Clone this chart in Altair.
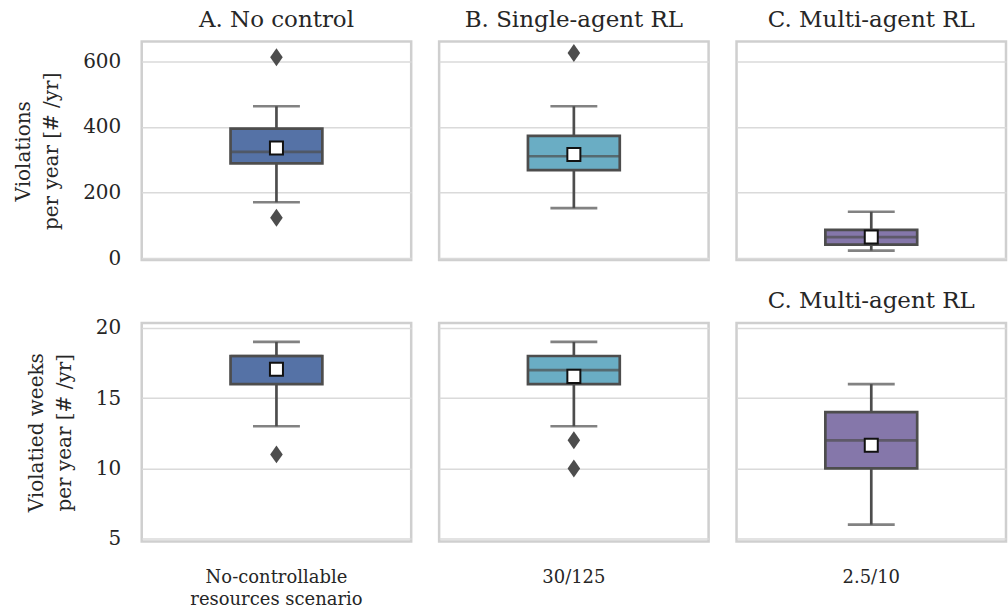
import altair as alt
import pandas as pd

FONT = "DejaVu Serif"
TXT = "#262626"
EDGE = "#4d4d4d"
FRAME = "#cfcfcf"
GRID = "#dadada"

scenarios = ["No-controllable\nresources scenario", "30/125", "2.5/10"]
panel_titles = ["A. No control", "B. Single-agent RL", "C. Multi-agent RL"]
colors = ["#5572a6", "#6aadc4", "#8577aa"]

# Row 1: violations per year
v_q1 = [289, 269, 42]
v_med = [324, 311, 65]
v_q3 = [395, 373, 87]
v_lo = [171, 153, 24]
v_hi = [463, 463, 142]
v_mean = [336, 316, 65]
v_out = [[612, 124], [625], []]
v_ticks = [0, 200, 400, 600]
v_domain = [-5, 660]

# Row 2: violated weeks per year
w_q1 = [16, 16, 10]
w_med = [18, 17, 12]
w_q3 = [18, 18, 14]
w_lo = [13, 13, 6]
w_hi = [19, 19, 16]
w_mean = [17.05, 16.55, 11.65]
w_out = [[11], [12, 10], []]
w_ticks = [5, 10, 15, 20]
w_domain = [4.8, 20.35]

W, H = 270, 219
BOX_W, CAP_W = 92, 47
LW = 2.7


def panel(i, q1, med, q3, lo, hi, mean, outs, ticks, domain, ytitle, title, bottom):
    df = pd.DataFrame({
        "scenario": [scenarios[i]], "q1": [q1[i]], "med": [med[i]], "q3": [q3[i]],
        "lo": [lo[i]], "hi": [hi[i]], "mean": [mean[i]],
    })
    if bottom:
        xaxis = alt.Axis(title=None, labelAngle=0, ticks=False, domain=False,
                         labelPadding=27, labelFontSize=18, labelLineHeight=22,
                         labelExpr="split(datum.label, '\\n')", labelColor=TXT, labelFont=FONT)
    else:
        xaxis = None
    x = alt.X("scenario:N", axis=xaxis, scale=alt.Scale(paddingInner=0, paddingOuter=0))
    yscale = alt.Scale(domain=domain, nice=False, zero=False)
    if i == 0:
        yaxis = alt.Axis(title=ytitle, values=ticks, grid=True, ticks=False, domain=False,
                         labelPadding=21, labelFontSize=20, labelColor=TXT, labelFont=FONT,
                         titleFontSize=20, titleFont=FONT, titleColor=TXT, titleFontWeight="normal",
                         titlePadding=21, titleLineHeight=28)
    else:
        yaxis = alt.Axis(title=None, values=ticks, grid=True, labels=False, ticks=False, domain=False)

    base = alt.Chart(df).encode(x=x)
    whisk_lo = base.mark_rule(color=EDGE, strokeWidth=LW).encode(
        y=alt.Y("lo:Q", scale=yscale, axis=yaxis), y2="q1:Q")
    whisk_hi = base.mark_rule(color=EDGE, strokeWidth=LW).encode(y=alt.Y("q3:Q"), y2="hi:Q")
    cap_lo = base.mark_tick(color=EDGE, size=CAP_W, thickness=LW).encode(y="lo:Q")
    cap_hi = base.mark_tick(color=EDGE, size=CAP_W, thickness=LW).encode(y="hi:Q")
    box = base.mark_bar(size=BOX_W, color=colors[i], stroke=EDGE, strokeWidth=LW).encode(
        y="q1:Q", y2="q3:Q")
    median = base.mark_tick(color=EDGE, size=BOX_W, thickness=LW).encode(y="med:Q")
    meanpt = base.mark_point(shape="square", filled=True, fill="white", stroke="#111111",
                             strokeWidth=2, size=170, opacity=1).encode(y="mean:Q")
    layers = [whisk_lo, whisk_hi, cap_lo, cap_hi, box, median, meanpt]
    if outs[i]:
        odf = pd.DataFrame({"scenario": [scenarios[i]] * len(outs[i]), "v": outs[i]})
        layers.append(alt.Chart(odf).mark_point(
            shape="M0,-1L0.7,0L0,1L-0.7,0Z", filled=True, color=EDGE, size=324, opacity=1
        ).encode(x=x, y="v:Q"))
    props = dict(width=W, height=H)
    if title:
        props["title"] = alt.TitleParams(text=title, fontSize=23, font=FONT, color=TXT,
                                         fontWeight="normal", offset=10, anchor="middle")
    return alt.layer(*layers).properties(**props)


row1 = alt.hconcat(*[
    panel(i, v_q1, v_med, v_q3, v_lo, v_hi, v_mean, v_out, v_ticks, v_domain,
          ["Violations", "per year [# /yr]"], panel_titles[i], False)
    for i in range(3)
], spacing=28, bounds="flush")

row2 = alt.hconcat(*[
    panel(i, w_q1, w_med, w_q3, w_lo, w_hi, w_mean, w_out, w_ticks, w_domain,
          ["Violatied weeks", "per year [# /yr]"], panel_titles[2] if i == 2 else None, True)
    for i in range(3)
], spacing=28, bounds="flush")

chart = alt.vconcat(row1, row2, spacing=18).properties(
    padding={"left": 12, "top": 6, "right": 0, "bottom": 0},
    background="white",
).configure_view(stroke=FRAME, strokeWidth=2.5).configure_axis(
    gridColor=GRID, gridWidth=1.5
)

chart.save("out.html", embed_options={"renderer": "svg", "actions": False})
